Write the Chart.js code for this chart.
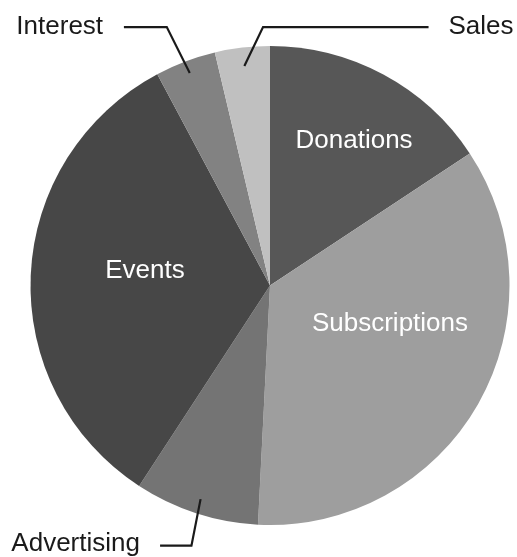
<!DOCTYPE html>
<html>
<head>
<meta charset="utf-8">
<script src="https://cdn.jsdelivr.net/npm/chart.js@4/dist/chart.umd.min.js"></script>
<style>
html,body{margin:0;padding:0;background:#fff;}
#wrap{width:517px;height:557px;position:relative;}
</style>
</head>
<body>
<div id="wrap"><canvas id="c" width="517" height="557"></canvas></div>
<script>
const categories = ['Donations', 'Subscriptions', 'Advertising', 'Events', 'Interest', 'Sales'];
const values = [15.7, 35.1, 8.4, 33.0, 4.1, 3.7];
const colors = ['#575757', '#9e9e9e', '#747474', '#474747', '#828282', '#c0c0c0'];

// label placement (styling): fractions of radius relative to pie centre
const insideLabels = {
  'Donations': [0.351, -0.605],
  'Subscriptions': [0.501, 0.159],
  'Events': [-0.522, -0.063]
};
const outsideLabels = {
  'Interest': {r: 0.948, elbow: [-0.431, -1.079], end: -0.610, text: -0.697, align: 'right'},
  'Sales': {r: 0.923, elbow: [-0.029, -1.079], end: 0.662, text: 0.745, align: 'left'},
  'Advertising': {r: 0.938, elbow: [-0.328, 1.086], end: -0.459, text: -0.543, align: 'right', ty: 1.078}
};

const labelPlugin = {
  id: 'labels',
  afterDatasetsDraw(chart) {
    const ctx = chart.ctx;
    const meta = chart.getDatasetMeta(0);
    ctx.save();
    ctx.font = '26px "Liberation Sans", Arial, sans-serif';
    ctx.textBaseline = 'middle';
    meta.data.forEach((arc, i) => {
      const p = arc.getProps(['x', 'y', 'startAngle', 'endAngle', 'outerRadius'], true);
      const R = p.outerRadius;
      const name = categories[i];
      if (insideLabels[name]) {
        const f = insideLabels[name];
        ctx.fillStyle = '#ffffff';
        ctx.textAlign = 'center';
        ctx.fillText(name, p.x + f[0] * R, p.y + f[1] * R);
      } else if (outsideLabels[name]) {
        const o = outsideLabels[name];
        const mid = (p.startAngle + p.endAngle) / 2;
        const ix = p.x + Math.cos(mid) * R * o.r;
        const iy = p.y + Math.sin(mid) * R * o.r;
        const ex = p.x + o.elbow[0] * R, ey = p.y + o.elbow[1] * R;
        ctx.strokeStyle = '#1a1a1a';
        ctx.lineWidth = 2.2;
        ctx.lineJoin = 'miter';
        ctx.beginPath();
        ctx.moveTo(ix, iy);
        ctx.lineTo(ex, ey);
        ctx.lineTo(p.x + o.end * R, ey);
        ctx.stroke();
        ctx.fillStyle = '#1a1a1a';
        ctx.textAlign = o.align;
        const ty = o.ty !== undefined ? p.y + o.ty * R : ey;
        ctx.fillText(name, p.x + o.text * R, ty);
      }
    });
    ctx.restore();
  }
};

new Chart(document.getElementById('c'), {
  type: 'pie',
  data: {
    labels: categories,
    datasets: [{
      data: values,
      backgroundColor: colors,
      borderWidth: 0
    }]
  },
  options: {
    responsive: false,
    animation: false,
    layout: {padding: {left: 30, right: 7, top: 46, bottom: 32}},
    plugins: {legend: {display: false}, tooltip: {enabled: false}}
  },
  plugins: [labelPlugin]
});
</script>
</body>
</html>
